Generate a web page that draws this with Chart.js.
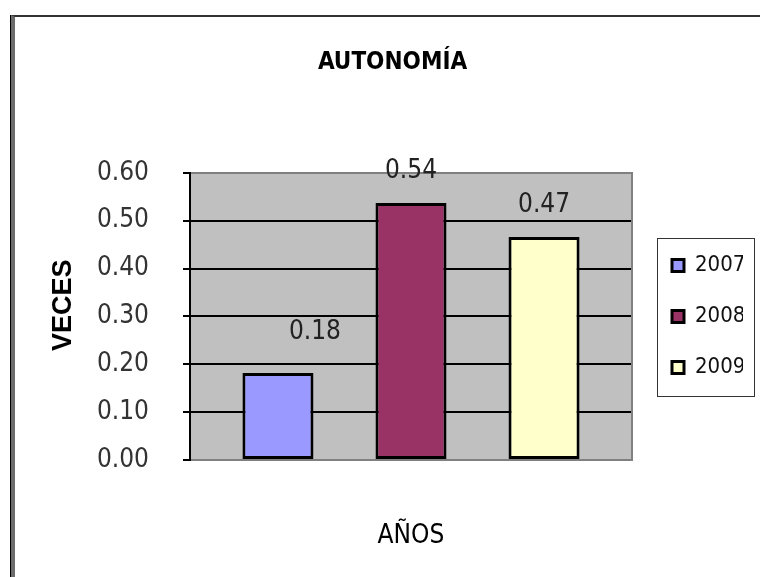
<!DOCTYPE html>
<html lang="es">
<head>
<meta charset="UTF-8">
<title>Autonomía</title>
<script src="https://cdn.jsdelivr.net/npm/chart.js"></script>
<style>
    body { margin: 0; background: #fff; }
    .marco {
        position: absolute; left: 11px; top: 15px; width: 800px; height: 620px;
        border-top: 2px solid #333; border-left: 4px solid #6b6b6b;
        box-shadow: -1px 0 0 #000;
    }
    #grafico { position: absolute; left: 0; top: 0; }
</style>
</head>
<body>
<div class="marco"></div>
<canvas id="grafico" width="760" height="577"></canvas>

<script>
    // datos del grafico
    const anios = ['2007', '2008', '2009'];
    const autonomia = [0.182, 0.537, 0.466];
    const colores = ['#9999FF', '#993366', '#FFFFCC'];
    const ticksY = [0, 0.1, 0.2, 0.3, 0.4, 0.5, 0.6];

    const NARROW = "'Liberation Sans Narrow', 'DejaVu Sans Condensed', 'Liberation Sans', sans-serif";

    // fondo gris del area de trazado
    const fondoPlot = {
        id: 'fondoPlot',
        beforeDraw(chart) {
            const a = chart.chartArea, c = chart.ctx;
            c.save();
            c.fillStyle = '#C0C0C0';
            c.fillRect(a.left, a.top, a.right - a.left, a.bottom - a.top);
            c.restore();
        }
    };

    // etiquetas de valor encima de cada barra
    const etiquetas = {
        id: 'etiquetas',
        afterDatasetsDraw(chart) {
            const c = chart.ctx;
            c.save();
            c.font = '26px ' + NARROW;
            c.fillStyle = '#222';
            c.textAlign = 'center';
            c.textBaseline = 'middle';
            chart.data.datasets.forEach((ds, i) => {
                const bar = chart.getDatasetMeta(i).data[0];
                let dx = 0, dy = 32;
                if (i == 0) { dx = 37; dy = 41; }
                c.fillText(ds.data[0].toFixed(2), bar.x + dx, bar.y - dy);
            });
            c.restore();
        }
    };

    // marco de la leyenda
    const marcoLeyenda = {
        id: 'marcoLeyenda',
        afterDraw(chart) {
            const hb = chart.legend.legendHitBoxes;
            if (!hb || !hb.length) return;
            const first = hb[0], last = hb[hb.length - 1];
            let right = 0;
            hb.forEach(h => { right = Math.max(right, h.left + h.width); });
            const c = chart.ctx;
            c.save();
            c.strokeStyle = '#333';
            c.lineWidth = 1;
            const x0 = Math.round(first.left - 15) + 0.5;
            const y0 = Math.round(first.top - 16) + 0.5;
            const x1 = Math.round(right + 9) + 0.5;
            const y1 = Math.round(last.top + last.height + 18) + 0.5;
            c.strokeRect(x0, y0, x1 - x0, y1 - y0);
            c.restore();
        }
    };

    const datasets = anios.map((a, i) => ({
        label: a,
        data: [autonomia[i]],
        backgroundColor: colores[i],
        borderColor: '#000',
        borderWidth: 3,
        borderSkipped: false,
        categoryPercentage: 0.903,
        barPercentage: 0.534
    }));

    const grafico = new Chart(document.getElementById('grafico'), {
        type: 'bar',
        data: { labels: [''], datasets: datasets },
        options: {
            responsive: false,
            animation: false,
            layout: { padding: { left: 42, right: 17, top: 0, bottom: 0 } },
            plugins: {
                title: {
                    display: true,
                    text: 'AUTONOMÍA',
                    color: '#000',
                    font: { family: NARROW, size: 24, weight: 'bold' },
                    padding: { top: 48, bottom: 96 }
                },
                legend: {
                    position: 'right',
                    fullSize: false,
                    maxWidth: 100,
                    labels: {
                        color: '#111',
                        font: { family: NARROW, size: 22 },
                        boxWidth: 12,
                        boxHeight: 12,
                        padding: 29
                    }
                },
                tooltip: { enabled: false }
            },
            scales: {
                x: {
                    grid: { display: false },
                    ticks: { display: false },
                    border: { color: '#808080', width: 2 },
                    title: {
                        display: true,
                        text: 'AÑOS',
                        color: '#000',
                        font: { family: NARROW, size: 26 },
                        padding: { top: 0, bottom: 25 }
                    },
                    afterFit(scale) { scale.height = 117; }
                },
                y: {
                    min: 0,
                    max: 0.6,
                    afterBuildTicks(scale) { scale.ticks = ticksY.map(v => ({ value: v })); },
                    ticks: {
                        color: '#333',
                        font: { family: NARROW, size: 26 },
                        padding: 34,
                        callback: v => v.toFixed(2)
                    },
                    grid: {
                        color: ctx => (ctx.tick && (ctx.tick.value == 0 || ctx.tick.value == 0.6)) ? '#808080' : '#000',
                        lineWidth: 2,
                        tickColor: '#000',
                        tickLength: 7,
                        tickWidth: 2
                    },
                    border: { color: '#000', width: 2 },
                    title: {
                        display: true,
                        text: '   VECES',
                        color: '#000',
                        font: { family: "'Liberation Sans', Arial, sans-serif", size: 27, weight: 'bold' },
                        padding: { top: 5, bottom: 0 }
                    },
                    afterFit(scale) { scale.width = 148; }
                },
                y2: {
                    position: 'right',
                    grid: { display: false },
                    ticks: { display: false },
                    border: { color: '#808080', width: 2 },
                    afterFit(scale) { scale.width = 11; }
                }
            }
        },
        plugins: [fondoPlot, etiquetas, marcoLeyenda]
    });
</script>
</body>
</html>
